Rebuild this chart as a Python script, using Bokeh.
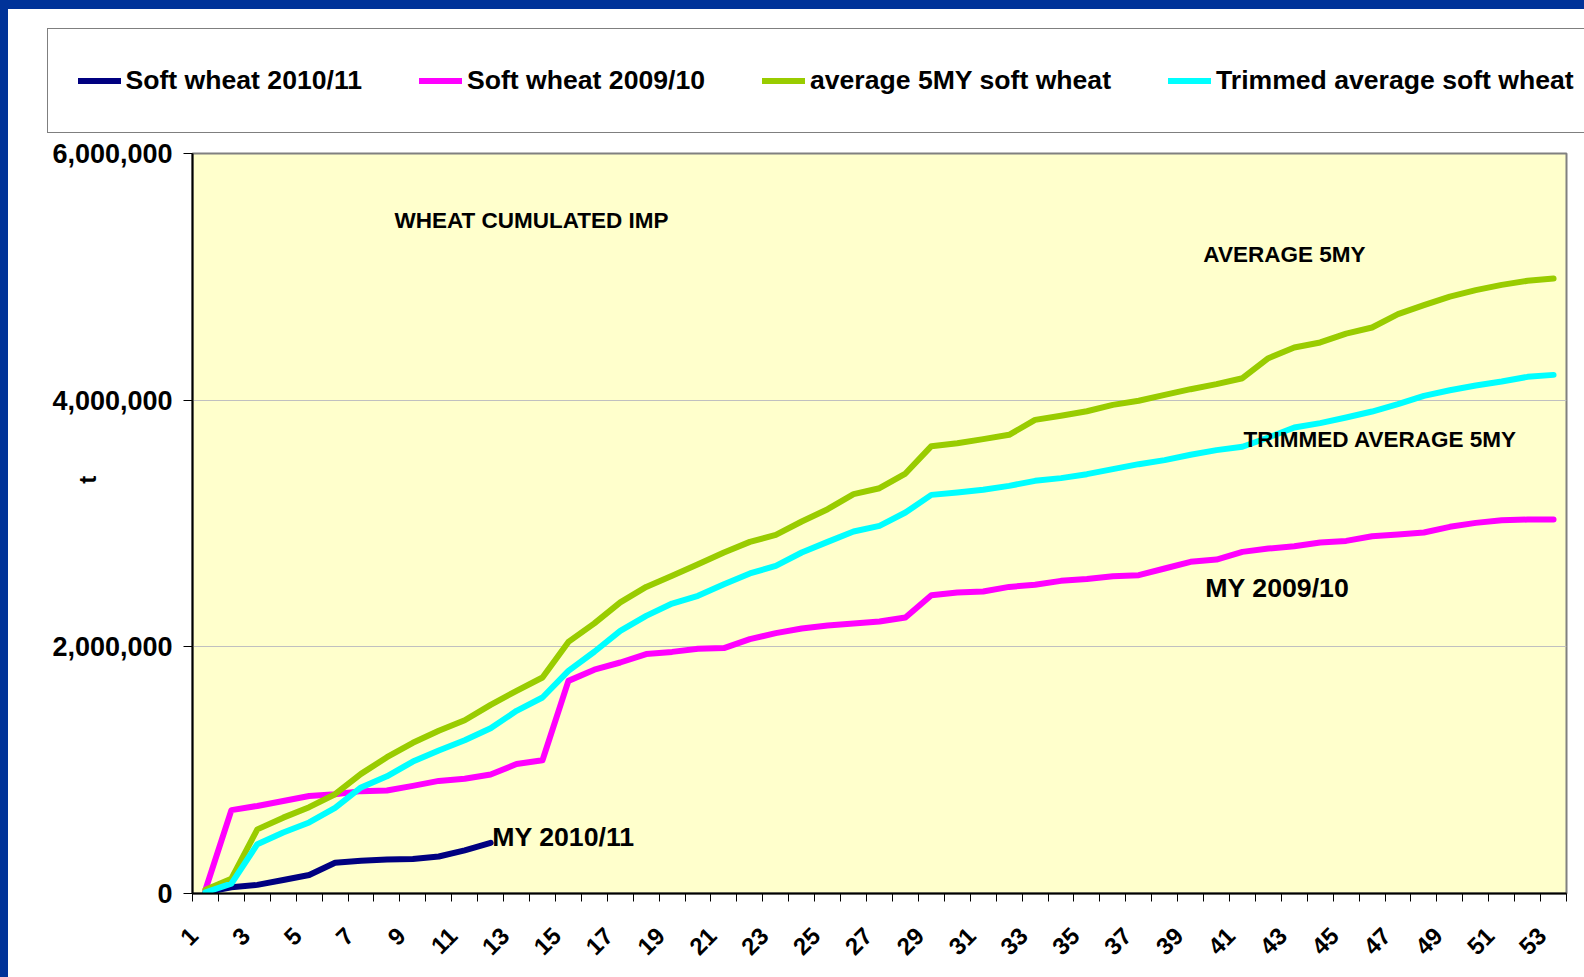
import math
from bokeh.plotting import figure
from bokeh.layouts import column
from bokeh.models import (Legend, LegendItem, Label, FixedTicker, LinearAxis,
                          NumeralTickFormatter, PrintfTickFormatter, Range1d,
                          ColumnDataSource)
from bokeh.embed import file_html
from bokeh.resources import INLINE

# ---------------- data (tonnes, cumulated by week) ----------------
weeks = list(range(1, 54))

sw_2010_11 = [10000, 50000, 70000, 110000, 150000, 250000, 265000, 275000,
              280000, 300000, 350000, 410000]

sw_2009_10 = [30000, 676000, 710000, 750000, 790000, 805000, 830000, 835000,
              873000, 913000, 930000, 965000, 1050000, 1080000, 1724000,
              1815000, 1873000, 1941000, 1959000, 1985000, 1990000, 2062000,
              2111000, 2149000, 2173000, 2189000, 2205000, 2238000, 2419000,
              2441000, 2449000, 2486000, 2503000, 2535000, 2550000, 2573000,
              2581000, 2635000, 2689000, 2708000, 2770000, 2797000, 2816000,
              2846000, 2859000, 2897000, 2911000, 2927000, 2973000, 3005000,
              3027000, 3032000, 3032000]

avg_5my = [30000, 120000, 520000, 615000, 700000, 805000, 970000, 1105000,
           1222000, 1320000, 1405000, 1530000, 1643000, 1751000, 2040000,
           2190000, 2360000, 2486000, 2576000, 2670000, 2765000, 2851000,
           2908000, 3016000, 3116000, 3238000, 3286000, 3405000, 3627000,
           3651000, 3684000, 3719000, 3840000, 3873000, 3910000, 3962000,
           3995000, 4043000, 4089000, 4130000, 4178000, 4340000, 4427000,
           4468000, 4540000, 4589000, 4697000, 4770000, 4840000, 4892000,
           4935000, 4968000, 4986000]

trimmed_avg = [10000, 80000, 400000, 495000, 576000, 695000, 860000, 950000,
               1070000, 1160000, 1243000, 1340000, 1481000, 1589000, 1805000,
               1960000, 2130000, 2251000, 2351000, 2414000, 2508000, 2595000,
               2657000, 2765000, 2851000, 2935000, 2981000, 3089000, 3232000,
               3251000, 3273000, 3305000, 3346000, 3368000, 3400000, 3441000,
               3481000, 3514000, 3557000, 3595000, 3622000, 3697000, 3778000,
               3814000, 3859000, 3908000, 3968000, 4035000, 4080000, 4119000,
               4151000, 4189000, 4205000]

series_names = ["Soft wheat 2010/11", "Soft wheat 2009/10",
                "average 5MY soft wheat", "Trimmed average soft wheat"]
series_colors = ["#000080", "#FF00FF", "#99CC00", "#00FFFF"]
y_ticks = [0, 2000000, 4000000, 6000000]
x_label_weeks = weeks[::2]
y_unit = "t"

FONT = "Liberation Sans"
LINE_W = 6

# ---------------- legend strip (top) ----------------
leg_fig = figure(width=1576, height=125, x_range=Range1d(0, 1),
                 y_range=Range1d(0, 1), output_backend="svg",
                 toolbar_location=None, x_axis_location=None,
                 y_axis_location=None, min_border=0,
                 outline_line_color=None, background_fill_color="white",
                 border_fill_color="white")
leg_fig.frame_align = False
leg_fig.xgrid.visible = False
leg_fig.ygrid.visible = False
leg_fig.margin = (9, 0, 0, 8)
# legend keys only (no data drawn in this strip)
key_renderers = [leg_fig.line(x=[float("nan")], y=[float("nan")], line_color=c,
                              line_width=LINE_W, line_cap="round")
                 for c in series_colors]
legend = Legend(items=[LegendItem(label=n, renderers=[r])
                       for n, r in zip(series_names, key_renderers)],
                orientation="horizontal", location=(38.5, 1.5), margin=0,
                padding=30, spacing=57, glyph_width=43, glyph_height=43,
                label_height=43, label_standoff=5,
                label_text_font=FONT, label_text_font_style="bold",
                label_text_font_size="26.6px", label_text_color="black",
                border_line_color="black", border_line_width=1,
                background_fill_color="white", background_fill_alpha=1.0)
leg_fig.add_layout(legend, "center")

# ---------------- main chart ----------------
fig = figure(width=1576, height=843,
             x_range=Range1d(0.5, 53.5), y_range=Range1d(0, 6000000),
             output_backend="svg", toolbar_location=None,
             min_border_left=184, min_border_right=18,
             min_border_top=19, min_border_bottom=84,
             background_fill_color="#FFFFCC", border_fill_color="white",
             outline_line_color="#808080", outline_line_width=2)
fig.frame_align = False
fig.margin = (0, 0, 0, 8)

# x axis: labels on odd weeks, tick marks between categories
lab_shift = 0.45
lab_ticks = [w - lab_shift for w in x_label_weeks]
fig.xaxis.ticker = FixedTicker(ticks=lab_ticks,
                               minor_ticks=[w - 0.5 for w in weeks] + [weeks[-1] + 0.5])
fig.xaxis.major_label_overrides = {t: str(w) for t, w in zip(lab_ticks, x_label_weeks)}
fig.xaxis.major_tick_line_color = None
fig.xaxis.major_tick_out = 0
fig.xaxis.major_tick_in = 0
fig.xaxis.minor_tick_out = 8
fig.xaxis.minor_tick_in = 0
fig.xaxis.minor_tick_line_color = "black"
fig.xaxis.minor_tick_line_width = 1
fig.xaxis.axis_line_color = "black"
fig.xaxis.axis_line_width = 2
fig.xaxis.major_label_orientation = math.pi / 4
fig.xaxis.major_label_standoff = 30
fig.xaxis.major_label_text_font = FONT
fig.xaxis.major_label_text_font_style = "bold"
fig.xaxis.major_label_text_font_size = "24px"
fig.xaxis.major_label_text_color = "black"

# y axis
fig.yaxis.ticker = FixedTicker(ticks=y_ticks)
fig.yaxis.formatter = NumeralTickFormatter(format="0,0")
fig.yaxis.major_tick_out = 9
fig.yaxis.major_tick_in = 0
fig.yaxis.minor_tick_line_color = None
fig.yaxis.major_tick_line_color = "black"
fig.yaxis.axis_line_color = "black"
fig.yaxis.axis_line_width = 2
fig.yaxis.major_label_standoff = 11
fig.yaxis.major_label_text_font = FONT
fig.yaxis.major_label_text_font_style = "bold"
fig.yaxis.major_label_text_font_size = "27px"
fig.yaxis.major_label_text_color = "black"

# unit label "t" drawn by a secondary left axis with a single tick
unit_axis = LinearAxis(ticker=FixedTicker(ticks=[3387000]),
                       formatter=PrintfTickFormatter(format=y_unit),
                       axis_line_color=None, major_tick_line_color=None,
                       minor_tick_line_color=None,
                       major_tick_out=0, major_tick_in=0,
                       major_label_orientation=math.pi / 2,
                       major_label_standoff=-38,
                       major_label_text_font=FONT,
                       major_label_text_font_style="bold",
                       major_label_text_font_size="24px",
                       major_label_text_color="black")
fig.add_layout(unit_axis, "left")

fig.xgrid.visible = False
fig.ygrid.ticker = FixedTicker(ticks=y_ticks[1:-1])
fig.ygrid.grid_line_color = "#C0C0C0"
fig.ygrid.grid_line_width = 1

all_series = [sw_2010_11, sw_2009_10, avg_5my, trimmed_avg]
for vals, col in zip(all_series, series_colors):
    src = ColumnDataSource(dict(week=weeks[:len(vals)], value=vals))
    fig.line(x="week", y="value", source=src, line_color=col,
             line_width=LINE_W, line_join="round", line_cap="round")

annots = [
    ("WHEAT CUMULATED IMP", 8.29, 5454000, "22.5px"),
    ("AVERAGE 5MY", 39.49, 5184000, "22.5px"),
    ("TRIMMED AVERAGE 5MY", 41.04, 3684000, "22.5px"),
    ("MY 2009/10", 39.57, 2481000, "26.7px"),
    ("MY 2010/11", 12.06, 460000, "26.7px"),
]
for txt, x, y, fs in annots:
    fig.add_layout(Label(x=x, y=y, text=txt, text_font=FONT,
                         text_font_style="bold", text_font_size=fs,
                         text_align="left", text_baseline="middle",
                         text_color="black"))

bg = ("linear-gradient(to right, #003399 8px, rgba(0,0,0,0) 8px), "
      "linear-gradient(to bottom, #003399 9px, #ffffff 9px)")
p = column(leg_fig, fig, spacing=0, styles={"background": bg})

open("out.html", "w").write(file_html(p, INLINE))
